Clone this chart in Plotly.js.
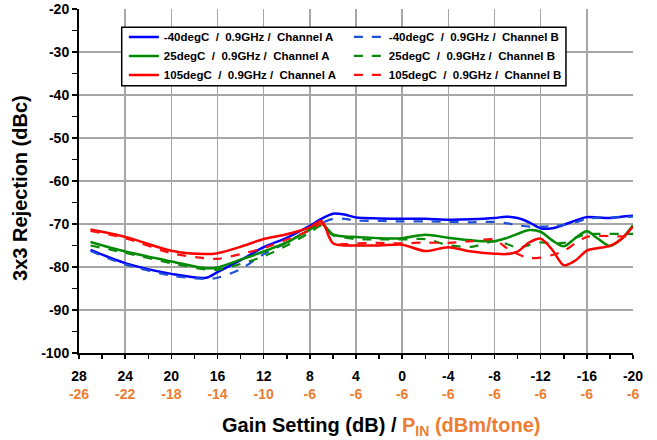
<!DOCTYPE html>
<html>
<head>
<meta charset="utf-8">
<script src="https://cdn.plot.ly/plotly-3.0.1.min.js"></script>
<style>html,body{margin:0;padding:0;background:#fff;}#chart{width:657px;height:440px;}</style>
</head>
<body>
<div id="chart"></div>
<script>
// Gain setting (dB) sample points shared by all series
const gain = [27, 24, 20, 17, 16, 14, 12, 10, 8, 7, 6, 5, 4, 2, 0, -2, -4, -6, -8, -9, -10, -11, -12, -13, -14, -15, -16, -17, -18, -19, -20];

// 3x3 rejection (dBc)
const m40A = [-76.0, -79.1, -81.6, -82.5, -81.2, -78.4, -75.4, -73.2, -70.4, -68.8, -67.6, -67.8, -68.5, -68.7, -68.8, -68.8, -69.0, -68.9, -68.6, -68.3, -68.6, -69.6, -71.0, -71.0, -70.2, -69.2, -68.4, -68.5, -68.6, -68.3, -68.1];
const m40B = [-76.3, -79.4, -82.0, -82.8, -82.5, -80.5, -77.0, -74.3, -71.2, -69.8, -68.8, -68.8, -69.2, -69.3, -69.4, -69.4, -69.5, -69.6, -69.5, -69.8, -70.3, -70.6, -70.6, -70.5, -70.2, -69.6, -68.8, -68.5, -68.5, -68.4, -68.3];
const t25A = [-74.2, -76.4, -78.7, -80.3, -80.1, -78.3, -76.4, -74.3, -71.3, -69.9, -72.4, -72.9, -73.0, -73.3, -73.3, -72.5, -73.2, -73.8, -74.0, -73.3, -72.3, -71.4, -71.8, -73.8, -75.2, -73.3, -71.7, -73.5, -75.1, -73.5, -70.3];
const t25B = [-75.0, -76.7, -79.1, -80.6, -80.6, -79.3, -77.5, -75.0, -72.0, -70.4, -72.6, -73.2, -73.5, -73.6, -73.6, -73.5, -74.9, -75.3, -74.0, -74.6, -75.5, -74.9, -74.3, -74.5, -74.4, -73.2, -72.4, -72.3, -72.3, -72.3, -72.3];
const t105A = [-71.3, -73.0, -76.2, -77.0, -76.8, -75.3, -73.5, -72.4, -70.8, -69.3, -74.5, -75.0, -75.0, -75.0, -74.8, -76.3, -75.4, -76.4, -76.9, -77.0, -76.4, -74.3, -73.4, -76.0, -79.6, -78.5, -76.2, -75.6, -75.1, -73.5, -70.6];
const t105B = [-71.6, -73.3, -76.8, -78.0, -78.1, -77.0, -75.6, -73.6, -71.5, -70.0, -74.4, -74.7, -74.5, -74.4, -74.5, -74.3, -74.4, -74.0, -73.6, -75.5, -77.0, -77.9, -77.8, -77.2, -76.3, -74.5, -73.0, -72.8, -72.8, -72.9, -72.9];

const seriesNames = [
  "-40degC&nbsp; /&nbsp; 0.9GHz /&nbsp; Channel A",
  "-40degC&nbsp; /&nbsp; 0.9GHz /&nbsp; Channel B",
  "25degC&nbsp; /&nbsp; 0.9GHz /&nbsp; Channel A",
  "25degC&nbsp; /&nbsp; 0.9GHz /&nbsp; Channel B",
  "105degC&nbsp; /&nbsp; 0.9GHz /&nbsp; Channel A",
  "105degC&nbsp; /&nbsp; 0.9GHz /&nbsp; Channel B"
];

// Axis tick labels
const gainTicks = [28, 24, 20, 16, 12, 8, 4, 0, -4, -8, -12, -16, -20];
const pinTicks = [-26, -22, -18, -14, -10, -6, -6, -6, -6, -6, -6, -6, -6];
const yTicks = [-20, -30, -40, -50, -60, -70, -80, -90, -100];

const orange = "#ED7D31";
const FONT = "Liberation Sans, Arial, sans-serif";

const seriesData = [m40A, m40B, t25A, t25B, t105A, t105B];
const colors = ["#0000FF", "#1F4FD8", "#008A00", "#0A8A0A", "#FF0000", "#FF1010"];
const dashes = ["solid", "dash", "solid", "dash", "solid", "dash"];
const widths = [2.5, 2.2, 2.5, 2.2, 2.5, 2.2];

const traces = seriesData.map((ys, i) => ({
  type: "scatter",
  mode: "lines",
  x: gain,
  y: ys,
  name: seriesNames[i],
  line: {color: colors[i], width: widths[i], dash: dashes[i], shape: "spline", smoothing: 0.8}
}));

const tickText = gainTicks.map((g, i) =>
  "<b>" + g + "</b><br><span style='color:" + orange + "'><b>" + pinTicks[i] + "</b></span>");

const layout = {
  width: 657, height: 440,
  margin: {l: 79, r: 24, t: 9, b: 87},
  paper_bgcolor: "#ffffff",
  plot_bgcolor: "#ffffff",
  font: {family: FONT, size: 13, color: "#000"},
  showlegend: true,
  legend: {
    orientation: "h",
    x: 0.081, y: 0.961, xanchor: "left", yanchor: "top",
    bgcolor: "rgba(0,0,0,0)", borderwidth: 0,
    font: {family: FONT, size: 11.5, color: "#000", weight: "bold"},
    entrywidth: 180, entrywidthmode: "pixels",
    traceorder: "normal", itemwidth: 30
  },
  shapes: [
    {
      type: "rect", xref: "paper", yref: "paper",
      x0: 0.0771, x1: 0.879, y0: 0.777, y1: 0.9468,
      fillcolor: "#ffffff", line: {color: "#000", width: 1.5}, layer: "above"
    }
  ],
  xaxis: {
    range: [28, -20],
    tickvals: gainTicks,
    ticktext: tickText,
    tickfont: {family: FONT, size: 14, color: "#000"},
    ticks: "outside", ticklen: 4, tickwidth: 1.5, tickcolor: "#000",
    minor: {dtick: 2, ticks: "outside", ticklen: 4, tickwidth: 1.5, tickcolor: "#000", showgrid: false},
    showline: true, linecolor: "#000", linewidth: 2,
    showgrid: true, gridcolor: "#A6A6A6", gridwidth: 1.5,
    zeroline: false,
    ticklabelstandoff: 5
  },
  yaxis: {
    range: [-100, -20],
    tickvals: yTicks,
    ticktext: yTicks.map(v => "<b>" + v + "</b>"),
    tickfont: {family: FONT, size: 14, color: "#000"},
    ticks: "outside", ticklen: 5, tickwidth: 1.5, tickcolor: "#000",
    minor: {dtick: 5, ticks: "outside", ticklen: 5, tickwidth: 1.5, tickcolor: "#000", showgrid: false},
    showline: true, linecolor: "#000", linewidth: 2,
    showgrid: true, gridcolor: "#A6A6A6", gridwidth: 1.5,
    zeroline: false
  },
  annotations: [
    {
      xref: "paper", yref: "paper", x: 0.546, y: -0.213,
      xanchor: "center", yanchor: "middle", showarrow: false,
      text: "<b>Gain Setting (dB) / <span style='color:" + orange + "'>P<sub>IN</sub> (dBm/tone)</span></b>",
      font: {family: FONT, size: 20, color: "#000"}
    },
    {
      xref: "paper", yref: "paper", x: -0.1065, y: 0.48,
      xanchor: "center", yanchor: "middle", showarrow: false, textangle: -90,
      text: "<b>3x3 Rejection (dBc)</b>",
      font: {family: FONT, size: 20, color: "#000"}
    }
  ]
};

Plotly.newPlot("chart", traces, layout, {displayModeBar: false, staticPlot: true});
</script>
</body>
</html>
